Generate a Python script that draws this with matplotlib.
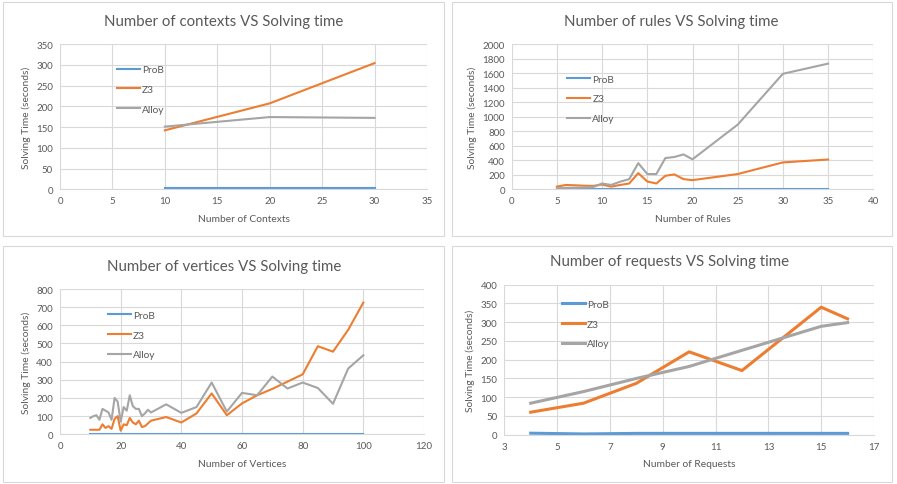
import numpy as np
import matplotlib.pyplot as plt
from matplotlib.patches import Rectangle

plt.rcParams['font.family'] = ['Lato', 'DejaVu Sans']

# --- data ---
ctx_x = [10, 20, 30]
ctx_prob = [3, 3, 3]
ctx_z3 = [142, 207, 304]
ctx_alloy = [151, 174, 172]

rules_x = [5, 6, 7, 8, 9, 10, 11, 12, 13, 14, 15, 16, 17, 18, 19, 20, 25, 30, 35]
rules_prob = [2] * 19
rules_z3 = [37, 60, 55, 50, 47, 65, 37, 60, 80, 223, 107, 80, 186, 205, 140, 126, 210, 370, 410]
rules_alloy = [15, 20, 22, 25, 30, 80, 60, 105, 140, 360, 210, 210, 430, 445, 480, 413, 890, 1590, 1730]

vert_x = [10, 11, 12, 13, 14, 15, 16, 17, 18, 19, 20, 21, 22, 23, 24, 25, 26, 27, 28, 29, 30,
          35, 40, 45, 50, 55, 60, 65, 70, 75, 80, 85, 90, 95, 100]
vert_prob = [2] * 35
vert_z3 = [25, 25, 25, 25, 55, 35, 45, 30, 85, 100, 20, 55, 50, 90, 65, 55, 75, 40, 45, 60, 75,
           95, 65, 115, 225, 105, 170, 215, 250, 290, 330, 485, 455, 575, 725]
vert_alloy = [90, 100, 105, 80, 140, 130, 120, 80, 200, 180, 70, 150, 130, 215, 155, 140, 140, 100, 115, 135, 120,
              165, 118, 150, 285, 125, 228, 215, 318, 252, 285, 255, 168, 362, 435]

req_x = [4, 6, 8, 10, 12, 15, 16]
req_prob = [4, 2, 3.5, 3.5, 3.5, 3.5, 3.5]
req_z3 = [60, 84, 137, 221, 171, 340, 309]
req_alloy = [84, 115, 150, 182, 225, 289, 299]

BLUE, ORANGE, GRAY = '#5b9bd5', '#ed7d31', '#a5a5a5'
TXT, GRID = '#595959', '#d9d9d9'

W, H = 897, 485
fig = plt.figure(figsize=(W / 100, H / 100), dpi=100)


def px_axes(l, r, t, b):
    return fig.add_axes([l / W, 1 - b / H, (r - l) / W, (b - t) / H])


panels = [
    dict(box=(3, 3, 444, 237), ax=(60, 427, 45, 190.3), title='Number of contexts VS Solving time',
         tpos=(224, 22), xlabel='Number of Contexts', x=ctx_x, ys=(ctx_prob, ctx_z3, ctx_alloy),
         xlim=(0, 35), xt=np.arange(0, 36, 5), ylim=(0, 350), yt=np.arange(0, 351, 50),
         leg=(0.155, 0.855), lw=1.5),
    dict(box=(452, 3, 892, 237), ax=(511.7, 873.3, 45, 190.3), title='Number of rules VS Solving time',
         tpos=(671, 22), xlabel='Number of Rules', x=rules_x, ys=(rules_prob, rules_z3, rules_alloy),
         xlim=(0, 40), xt=np.arange(0, 41, 5), ylim=(0, 2000), yt=np.arange(0, 2001, 200),
         leg=(0.153, 0.79), lw=1.5),
    dict(box=(3, 247, 444, 483), ax=(60, 424, 290, 435.3), title='Number of vertices VS Solving time',
         tpos=(224, 267), xlabel='Number of Vertices', x=vert_x, ys=(vert_prob, vert_z3, vert_alloy),
         xlim=(0, 120), xt=np.arange(0, 121, 20), ylim=(0, 800), yt=np.arange(0, 801, 100),
         leg=(0.131, 0.85), lw=1.5),
    dict(box=(452, 247, 892, 483), ax=(504.3, 874, 285.7, 435.7), title='Number of requests VS Solving time',
         tpos=(670, 262), xlabel='Number of Requests', x=req_x, ys=(req_prob, req_z3, req_alloy),
         xlim=(3, 17), xt=np.arange(3, 18, 2), ylim=(0, 400), yt=np.arange(0, 401, 50),
         leg=(0.155, 0.90), lw=2.2),
]

for p in panels:
    x0, y0, x1, y1 = p['box']
    fig.patches.append(Rectangle((x0 / W, 1 - y1 / H), (x1 - x0) / W, (y1 - y0) / H,
                                 transform=fig.transFigure, fill=False, edgecolor=GRID, lw=0.8))
    ax = px_axes(*p['ax'])
    for y, c, name in zip(p['ys'], (BLUE, ORANGE, GRAY), ('ProB', 'Z3', 'Alloy')):
        ax.plot(p['x'], y, color=c, lw=p['lw'], label=name, solid_joinstyle='round')
    ax.set_xlim(*p['xlim'])
    ax.set_ylim(*p['ylim'])
    ax.set_xticks(p['xt'])
    ax.set_yticks(p['yt'])
    ax.grid(True, color=GRID, lw=0.8)
    ax.set_axisbelow(True)
    for s in ('top', 'right', 'left'):
        ax.spines[s].set_visible(False)
    ax.spines['bottom'].set_color(GRID)
    ax.tick_params(length=0, labelsize=7, colors=TXT, pad=5)
    ax.set_xlabel(p['xlabel'], fontsize=7.4, color=TXT, labelpad=6)
    ax.set_ylabel('Solving Time (seconds)', fontsize=7.4, color=TXT, labelpad=4)
    fig.text(p['tpos'][0] / W, 1 - p['tpos'][1] / H, p['title'], ha='center', va='center',
             fontsize=10.8, color=TXT)
    ax.legend(loc='upper left', bbox_to_anchor=p['leg'], frameon=False, fontsize=7.3,
              handlelength=2.3, handletextpad=0.2, labelspacing=1.05, borderpad=0,
              borderaxespad=0, labelcolor=TXT)

fig.savefig('out.png', dpi=100)
